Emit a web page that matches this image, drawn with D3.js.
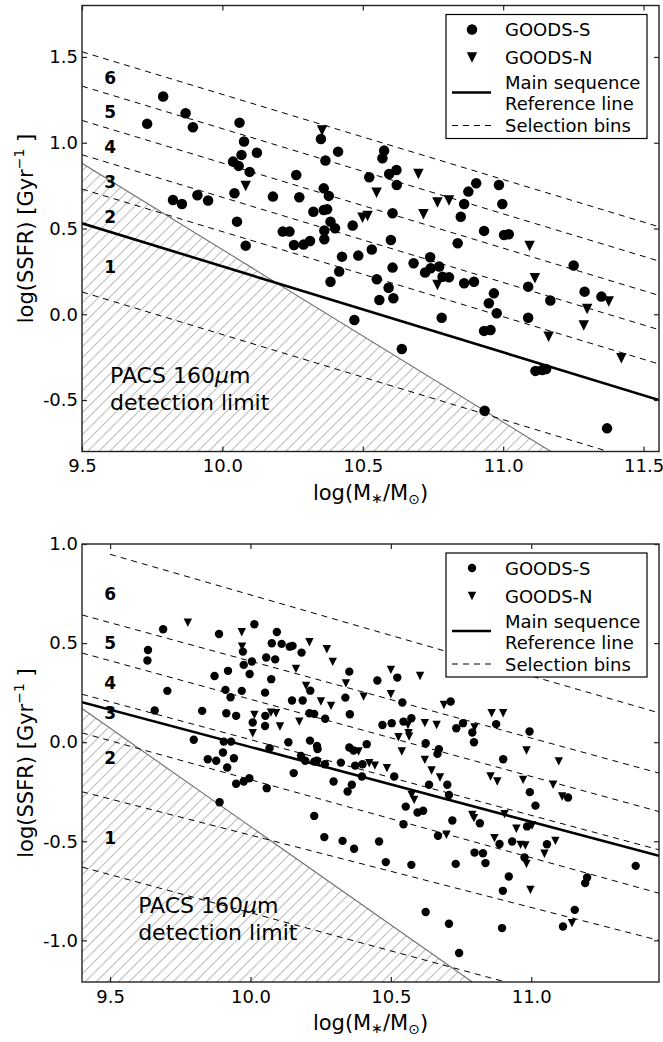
<!DOCTYPE html>
<html lang="en">
<head>
<meta charset="UTF-8">
<title>SSFR vs stellar mass, GOODS-S / GOODS-N</title>
<script src="https://d3js.org/d3.v7.min.js"></script>
<style>
  body { margin: 0; background: #fff; }
  svg text { font-family: "DejaVu Sans", sans-serif; fill: #000; }
</style>
</head>
<body>
<div id="chart"></div>
<script>
// ---------- data: [log M*, log SSFR] ----------
const topGoodsS = [
  [9.789,1.269],[9.732,1.110],[9.869,1.172],[9.895,1.090],[10.061,1.117],[10.077,1.007],[10.123,0.942],
  [10.068,0.929],[10.038,0.890],[10.058,0.865],[10.097,0.830],[10.043,0.705],[9.824,0.666],[9.856,0.643],
  [9.911,0.694],[9.949,0.663],[10.052,0.540],[10.083,0.400],[10.351,1.022],[10.412,0.948],[10.367,0.896],
  [10.263,0.812],[10.180,0.686],[10.274,0.682],[10.361,0.734],[10.379,0.690],[10.324,0.598],[10.361,0.608],
  [10.373,0.612],[10.385,0.540],[10.401,0.501],[10.363,0.488],[10.363,0.437],[10.215,0.482],[10.239,0.482],
  [10.255,0.404],[10.289,0.406],[10.312,0.427],[10.464,0.517],[10.532,0.378],[10.576,0.954],[10.570,0.910],
  [10.523,0.799],[10.594,0.818],[10.620,0.841],[10.621,0.754],[10.606,0.589],[10.600,0.433],[10.861,0.643],
  [10.849,0.569],[10.838,0.414],[10.876,0.715],[10.904,0.764],[10.985,0.754],[10.997,0.643],[10.932,0.486],
  [11.003,0.462],[11.020,0.466],[10.426,0.336],[10.484,0.342],[10.416,0.249],[10.385,0.190],[10.550,0.204],
  [10.606,0.272],[10.592,0.155],[10.559,0.083],[10.609,0.093],[10.470,-0.033],[10.681,0.297],[10.740,0.332],
  [10.722,0.243],[10.742,0.268],[10.772,0.278],[10.784,0.219],[10.807,0.216],[10.861,0.181],[10.896,0.190],
  [10.967,0.122],[10.949,0.064],[10.977,0.006],[10.781,-0.020],[10.932,-0.097],[10.955,-0.092],[10.639,-0.202],
  [11.089,0.161],[11.089,-0.020],[11.168,0.080],[11.251,0.284],[11.290,0.132],[11.350,0.103],[11.115,-0.330],
  [11.139,-0.325],[11.153,-0.319],[10.934,-0.562],[11.370,-0.665]
];
const topGoodsN = [
  [10.083,0.748],[10.355,1.071],[10.499,0.563],[10.517,0.573],[10.549,0.709],[10.698,0.818],[10.716,0.583],
  [10.766,0.651],[10.807,0.663],[11.094,0.398],[10.766,0.171],[11.113,0.210],[11.162,-0.131],[11.299,0.031],
  [11.287,-0.066],[11.376,0.074],[11.421,-0.257]
];
const botGoodsS = [
  [9.689,0.570],[9.888,0.546],[10.014,0.595],[10.094,0.556],[9.635,0.465],[9.633,0.412],[9.973,0.457],
  [10.076,0.499],[10.111,0.496],[10.140,0.482],[10.150,0.486],[10.182,0.452],[10.056,0.427],[10.088,0.418],
  [10.005,0.407],[9.976,0.390],[9.920,0.360],[9.872,0.334],[9.997,0.344],[10.074,0.318],[9.704,0.259],
  [9.911,0.264],[9.929,0.227],[9.969,0.259],[10.052,0.250],[10.213,0.260],[10.148,0.210],[10.186,0.210],
  [10.338,0.225],[10.352,0.356],[10.354,0.141],[9.659,0.160],[9.828,0.158],[9.914,0.146],[9.949,0.133],
  [10.008,0.099],[10.053,0.133],[10.052,0.082],[10.210,0.146],[10.227,0.143],[10.266,0.118],[9.798,0.012],
  [9.905,0.003],[9.931,0.003],[10.068,-0.030],[10.135,0.000],[10.212,0.008],[10.237,-0.019],[10.239,-0.035],
  [10.352,-0.027],[10.367,-0.042],[10.414,-0.010],[9.902,-0.052],[9.941,-0.081],[9.848,-0.086],[9.878,-0.094],
  [9.917,-0.128],[10.180,-0.069],[10.195,-0.094],[10.227,-0.098],[10.237,-0.093],[10.265,-0.111],[10.322,-0.103],
  [10.373,-0.118],[10.399,-0.111],[10.397,-0.173],[10.512,-0.173],[10.154,-0.156],[10.296,-0.198],[10.361,-0.215],
  [9.949,-0.210],[9.976,-0.198],[9.996,-0.182],[10.058,-0.232],[10.470,0.087],[10.503,0.096],[10.545,0.104],
  [10.573,0.121],[10.541,0.200],[10.452,0.311],[10.523,0.326],[10.624,-0.005],[10.666,-0.059],[10.671,-0.035],
  [10.701,-0.215],[10.636,-0.215],[10.713,0.205],[10.733,0.070],[10.757,0.096],[10.790,0.049],[10.796,0.000],
  [10.875,0.091],[10.994,0.054],[10.900,-0.086],[10.346,-0.249],[10.707,-0.266],[10.995,-0.252],[11.015,-0.320],
  [11.131,-0.279],[9.890,-0.303],[10.227,-0.372],[10.553,-0.325],[10.595,-0.355],[10.615,-0.346],[10.545,-0.414],
  [10.719,-0.395],[10.817,-0.409],[10.985,-0.425],[10.263,-0.479],[10.328,-0.498],[10.369,-0.538],[10.458,-0.501],
  [10.668,-0.472],[10.887,-0.514],[10.932,-0.501],[11.056,-0.515],[10.798,-0.557],[10.828,-0.560],[10.837,-0.610],
  [10.976,-0.582],[10.482,-0.605],[10.573,-0.619],[10.731,-0.614],[10.920,-0.678],[10.899,-0.750],[11.199,-0.683],
  [11.192,-0.711],[11.372,-0.624],[10.624,-0.857],[10.707,-0.916],[10.896,-0.938],[11.113,-0.930],[11.155,-0.846],
  [10.743,-1.064]
];
const botGoodsN = [
  [9.777,0.603],[9.969,0.555],[9.970,0.482],[10.210,0.504],[10.272,0.469],[10.293,0.405],[10.162,0.370],
  [10.198,0.284],[10.251,0.205],[10.287,0.183],[10.340,0.297],[10.403,0.230],[10.014,0.138],[10.073,0.149],
  [10.091,0.146],[10.105,0.079],[10.008,0.045],[10.174,0.104],[10.385,-0.047],[10.423,-0.106],[10.443,-0.118],
  [10.486,-0.131],[10.561,0.087],[10.563,0.045],[10.565,0.028],[10.527,0.025],[10.500,0.242],[10.500,0.365],
  [10.604,0.334],[10.621,0.096],[10.663,0.087],[10.539,-0.047],[10.621,-0.089],[10.645,-0.143],[10.675,-0.178],
  [10.689,0.188],[10.798,0.074],[10.859,0.146],[10.900,0.146],[10.983,-0.042],[11.098,-0.097],[10.855,-0.173],
  [10.879,-0.198],[10.971,-0.190],[11.078,-0.215],[11.110,-0.274],[10.574,-0.266],[10.583,-0.291],[10.790,-0.367],
  [10.796,-0.383],[10.905,-0.363],[10.947,-0.437],[11.003,-0.420],[10.698,-0.467],[10.869,-0.484],[10.962,-0.518],
  [10.979,-0.521],[11.047,-0.563],[11.086,-0.498],[10.983,-0.614],[10.997,-0.745],[11.145,-0.913]
];

// main sequence reference lines, detection limits (two end points each)
const topMainSeq = [[9.5, 0.53], [11.555, -0.50]];
const botMainSeq = [[9.4, 0.202], [11.455, -0.573]];
const topLimit = [[9.5, 0.88], [11.17, -0.80]];
const botLimit = [[9.4, 0.17], [10.79, -1.21]];

// selection-bin boundaries: start mass, value at start, value at right edge
const topBinStart = [9.5, 9.5, 9.5, 9.5, 9.5, 9.5, 9.5];
const topBinLeft  = [1.53, 1.33, 1.13, 0.93, 0.73, 0.53, 0.13];
const topBinRight = [0.51, 0.31, 0.11, -0.09, -0.29, -0.50, -0.89];
const botBinStart = [9.5, 9.4, 9.4, 9.4, 9.4, 9.4, 9.4];
const botBinLeft  = [0.948, 0.642, 0.45, 0.242, 0.047, -0.25, -0.63];
const botBinRight = [0.148, -0.156, -0.35, -0.543, -0.762, -1.0, -1.42];

// bin numbers and where they sit
const binNames = ["1", "2", "3", "4", "5", "6"];
const topBinLabelY = [0.277, 0.569, 0.773, 0.977, 1.178, 1.376];
const botBinLabelY = [-0.484, -0.081, 0.146, 0.297, 0.502, 0.748];

// axes
const topXTicks = [9.5, 10.0, 10.5, 11.0, 11.5];
const topYTicks = [-0.5, 0.0, 0.5, 1.0, 1.5];
const botXTicks = [9.5, 10.0, 10.5, 11.0];
const botYTicks = [-1.0, -0.5, 0.0, 0.5, 1.0];

const legendNames = ["GOODS-S", "GOODS-N", "Main sequence", "Reference line", "Selection bins"];

// ---------- drawing ----------
const svg = d3.select("#chart").append("svg")
  .attr("width", 663).attr("height", 1042);
const defs = svg.append("defs");

function hatch(id, s) {
  defs.append("pattern").attr("id", id)
    .attr("patternUnits", "userSpaceOnUse")
    .attr("width", s).attr("height", s)
    .append("path")
    .attr("d", `M0,${s} L${s},0 M${-s/2},${s/2} L${s/2},${-s/2} M${s/2},${s*1.5} L${s*1.5},${s/2}`)
    .attr("stroke", "#bdbdbd").attr("stroke-width", 1.1);
}
hatch("hatchTop", 11);
hatch("hatchBot", 11);

function drawPanel(p) {
  const x = d3.scaleLinear().domain(p.xDomain).range([82, 659]);
  const y = d3.scaleLinear().domain(p.yDomain).range([p.bottom, p.top]);
  const g = svg.append("g");

  defs.append("clipPath").attr("id", p.id + "clip")
    .append("rect").attr("x", 82).attr("y", p.top)
    .attr("width", 577).attr("height", p.bottom - p.top);
  const plot = g.append("g").attr("clip-path", `url(#${p.id}clip)`);

  // shaded region below the PACS detection limit
  const lim = p.limit;
  const yMin = p.yDomain[0];
  plot.append("path")
    .attr("d", d3.line()([
      [x(lim[0][0]), y(lim[0][1])], [x(lim[1][0]), y(lim[1][1])],
      [x(lim[1][0]), y(yMin)], [x(p.xDomain[0]), y(yMin)]
    ]))
    .attr("fill", `url(#${p.hatch})`).attr("stroke", "none");
  plot.append("line")
    .attr("x1", x(lim[0][0])).attr("y1", y(lim[0][1]))
    .attr("x2", x(lim[1][0])).attr("y2", y(lim[1][1]))
    .attr("stroke", "#707070").attr("stroke-width", 1.1);

  // PACS text
  const t = plot.append("text")
    .attr("x", x(9.6)).attr("y", y(p.pacsY))
    .attr("font-size", 22).attr("dominant-baseline", "central");
  t.append("tspan").text("PACS 160");
  t.append("tspan").attr("font-style", "italic").text("\u03bc");
  t.append("tspan").text("m");
  t.append("tspan").attr("x", x(9.6)).attr("dy", 27).text("detection limit");

  // selection bins
  const xEnd = p.xDomain[1];
  plot.selectAll("line.bin").data(p.binStart).enter().append("line")
    .attr("class", "bin")
    .attr("x1", d => x(d))
    .attr("y1", (d, i) => y(p.binLeft[i]))
    .attr("x2", x(xEnd))
    .attr("y2", (d, i) => y(p.binRight[i]))
    .attr("stroke", "#000").attr("stroke-width", 1)
    .attr("stroke-dasharray", "6,5");

  // main sequence
  plot.append("line")
    .attr("x1", x(p.ms[0][0])).attr("y1", y(p.ms[0][1]))
    .attr("x2", x(p.ms[1][0])).attr("y2", y(p.ms[1][1]))
    .attr("stroke", "#000").attr("stroke-width", 2.6);

  // bin numbers
  plot.selectAll("text.bn").data(binNames).enter().append("text")
    .attr("class", "bn")
    .attr("x", x(p.binLabelX)).attr("y", (d, i) => y(p.binLabelY[i]))
    .attr("text-anchor", "middle").attr("dominant-baseline", "central")
    .attr("font-size", 17).attr("font-weight", "bold")
    .text(d => d);

  // points
  const r = p.marker / 2;
  plot.selectAll("circle.s").data(p.goodsS).enter().append("circle")
    .attr("class", "s")
    .attr("cx", d => x(d[0])).attr("cy", d => y(d[1])).attr("r", r)
    .attr("fill", "#000");
  plot.selectAll("path.n").data(p.goodsN).enter().append("path")
    .attr("class", "n")
    .attr("d", d => {
      const cx = x(d[0]), cy = y(d[1]);
      return `M${cx - r},${cy - r} L${cx + r},${cy - r} L${cx},${cy + r} Z`;
    })
    .attr("fill", "#000");

  // frame
  g.append("rect").attr("x", 82).attr("y", p.top)
    .attr("width", 577).attr("height", p.bottom - p.top)
    .attr("fill", "none").attr("stroke", "#222").attr("stroke-width", 1.4);

  // axes (ticks pointing inward on all four sides)
  const fmt = d => d.toFixed(1);
  const ax = g.append("g").attr("transform", `translate(0,${p.bottom})`)
    .call(d3.axisBottom(x).tickValues(p.xTicks).tickSize(-5).tickPadding(8).tickFormat(fmt));
  const axTop = g.append("g").attr("transform", `translate(0,${p.top})`)
    .call(d3.axisTop(x).tickValues(p.xTicks).tickSize(-5).tickFormat(""));
  const ay = g.append("g").attr("transform", "translate(82,0)")
    .call(d3.axisLeft(y).tickValues(p.yTicks).tickSize(-5).tickPadding(4).tickFormat(fmt));
  const ayR = g.append("g").attr("transform", "translate(659,0)")
    .call(d3.axisRight(y).tickValues(p.yTicks).tickSize(-5).tickFormat(""));
  [ax, axTop, ay, ayR].forEach(a => {
    a.select(".domain").remove();
    a.selectAll(".tick line").attr("stroke", "#222").attr("stroke-width", 1.2);
    a.selectAll(".tick text").attr("font-size", 18).attr("font-family", "DejaVu Sans").attr("fill", "#000");
  });

  // axis titles
  const xl = g.append("text").attr("x", 370.5).attr("y", p.bottom + 41)
    .attr("text-anchor", "middle").attr("dominant-baseline", "central")
    .attr("font-size", 21);
  xl.append("tspan").text("log(M");
  xl.append("tspan").attr("font-size", 14).attr("dy", 5).text("\u2217");
  xl.append("tspan").attr("dy", -5).text("/M");
  xl.append("tspan").attr("font-size", 14).attr("dy", 6).text("\u2299");
  xl.append("tspan").attr("dy", -6).text(")");

  const cy = (p.top + p.bottom) / 2;
  const yl = g.append("text")
    .attr("transform", `translate(33,${cy}) rotate(-90)`)
    .attr("text-anchor", "middle").attr("font-size", 21);
  yl.append("tspan").text("log(SSFR) [Gyr");
  yl.append("tspan").attr("font-size", 14).attr("dy", -9).text("\u22121");
  yl.append("tspan").attr("dy", 9).text(" ]");

  // legend
  const lt = p.top + 9;
  const lg = g.append("g");
  lg.append("rect").attr("x", 446).attr("y", lt).attr("width", 201).attr("height", 124)
    .attr("fill", "#fff").attr("stroke", "#000").attr("stroke-width", 1.2);
  lg.append("circle").attr("cx", 472).attr("cy", lt + 15).attr("r", r).attr("fill", "#000");
  lg.append("path")
    .attr("d", `M${472 - r},${lt + 43 - r} L${472 + r},${lt + 43 - r} L472,${lt + 43 + r} Z`)
    .attr("fill", "#000");
  lg.append("line").attr("x1", 452).attr("x2", 491).attr("y1", lt + 78).attr("y2", lt + 78)
    .attr("stroke", "#000").attr("stroke-width", 2.6);
  lg.append("line").attr("x1", 452).attr("x2", 491).attr("y1", lt + 111).attr("y2", lt + 111)
    .attr("stroke", "#000").attr("stroke-width", 1).attr("stroke-dasharray", "6,5");
  const rows = [15, 43, 68, 89, 111];
  lg.selectAll("text").data(legendNames).enter().append("text")
    .attr("x", 505).attr("y", (d, i) => lt + rows[i])
    .attr("dominant-baseline", "central").attr("font-size", 18)
    .text(d => d);
}

drawPanel({
  id: "top", top: 5.5, bottom: 451.5,
  xDomain: [9.5, 11.555], yDomain: [-0.8, 1.8],
  xTicks: topXTicks, yTicks: topYTicks,
  goodsS: topGoodsS, goodsN: topGoodsN, marker: 10.5,
  ms: topMainSeq, limit: topLimit, hatch: "hatchTop",
  binStart: topBinStart, binLeft: topBinLeft, binRight: topBinRight,
  binLabelX: 9.6, binLabelY: topBinLabelY, pacsY: -0.354
});

drawPanel({
  id: "bot", top: 544, bottom: 982,
  xDomain: [9.4, 11.455], yDomain: [-1.21, 1.0],
  xTicks: botXTicks, yTicks: botYTicks,
  goodsS: botGoodsS, goodsN: botGoodsN, marker: 8.4,
  ms: botMainSeq, limit: botLimit, hatch: "hatchBot",
  binStart: botBinStart, binLeft: botBinLeft, binRight: botBinRight,
  binLabelX: 9.5, binLabelY: botBinLabelY, pacsY: -0.82
});
</script>
</body>
</html>
